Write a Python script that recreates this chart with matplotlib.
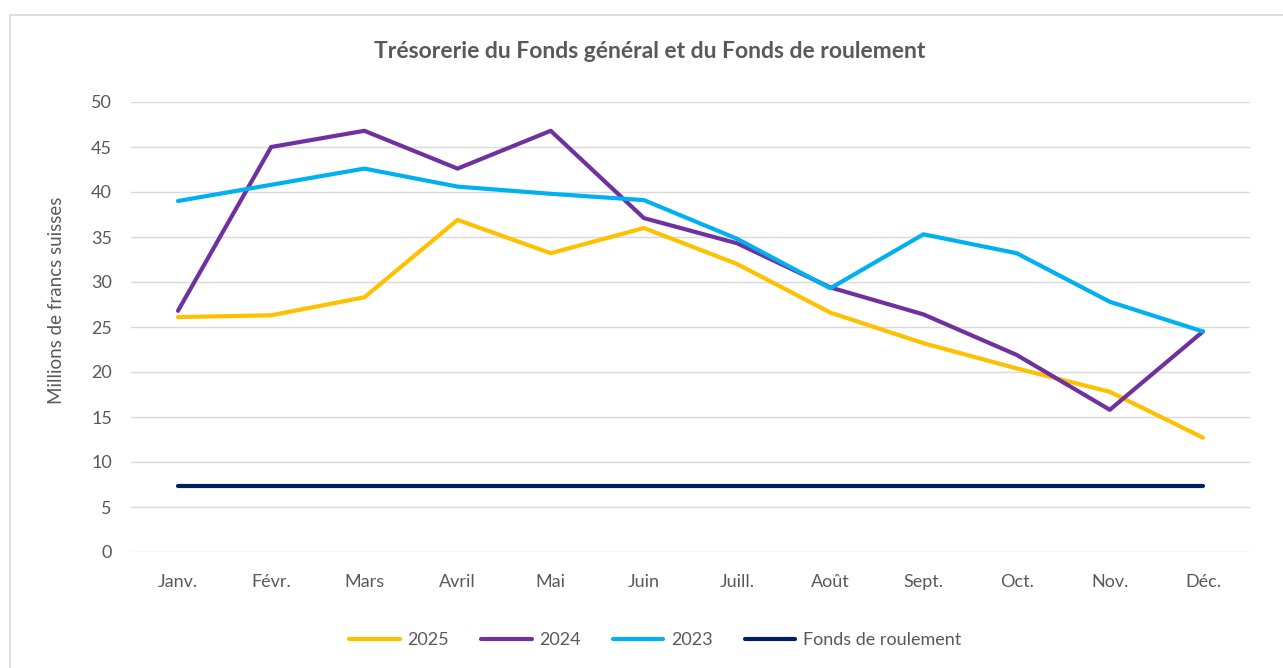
import matplotlib.pyplot as plt
from matplotlib.patches import Rectangle

months = ["Janv.", "Févr.", "Mars", "Avril", "Mai", "Juin", "Juill.", "Août",
          "Sept.", "Oct.", "Nov.", "Déc."]
y2025 = [26.1, 26.3, 28.3, 36.9, 33.2, 36.0, 32.0, 26.6, 23.2, 20.4, 17.8, 12.7]
y2024 = [26.8, 45.0, 46.8, 42.6, 46.8, 37.1, 34.3, 29.4, 26.4, 21.9, 15.8, 24.5]
y2023 = [39.0, 40.8, 42.6, 40.6, 39.8, 39.1, 34.8, 29.3, 35.3, 33.2, 27.8, 24.5]
fonds_roulement = [7.3] * 12

plt.rcParams["font.family"] = ["Lato", "DejaVu Sans"]
TXT = "#595959"

fig = plt.figure(figsize=(12.83, 6.68), dpi=100)
# chart-area border (Excel style), only left and top visible
fig.patches.append(Rectangle((10 / 1283, -0.05), 1.2, 1 - 15 / 668 + 0.05,
                             transform=fig.transFigure, fill=False,
                             edgecolor="#D9D9D9", linewidth=1.2))

ax = fig.add_axes([131.4 / 1283, 1 - 552 / 668, (1249.6 - 131.4) / 1283, 450 / 668])
x = range(len(months))
ax.plot(x, y2025, color="#FFC000", lw=3, label="2025", solid_capstyle="round")
ax.plot(x, y2024, color="#7030A0", lw=3, label="2024", solid_capstyle="round")
ax.plot(x, y2023, color="#00B0F0", lw=3, label="2023", solid_capstyle="round")
ax.plot(x, fonds_roulement, color="#002060", lw=3, label="Fonds de roulement",
        solid_capstyle="round")

ax.set_xlim(-0.5, len(months) - 0.5)
ax.set_ylim(0, 50)
ax.set_yticks(range(0, 51, 5))
ax.set_xticks(list(x))
ax.set_xticklabels(months)
ax.grid(axis="y", color="#D9D9D9", lw=1)
ax.set_axisbelow(True)
for s in ax.spines.values():
    s.set_visible(False)
ax.tick_params(length=0, labelsize=13, colors=TXT, pad=14)
ax.tick_params(axis="x", pad=16)
ax.set_ylabel("Millions de francs suisses", fontsize=13.5, color=TXT)
ax.yaxis.set_label_coords((65 - 131.4) / 1118.2, 0.56)

fig.text(650 / 1283, 1 - 52 / 668, "Trésorerie du Fonds général et du Fonds de roulement",
         ha="center", va="center", fontsize=16.5, fontweight="bold", color=TXT)

fig.legend(loc="center", bbox_to_anchor=(655 / 1283, 1 - 640 / 668), ncol=4,
           frameon=False, fontsize=13, labelcolor=TXT, handlelength=2.8,
           columnspacing=1.8, handletextpad=0.4)

fig.savefig("out.png", dpi=100, facecolor="white")
